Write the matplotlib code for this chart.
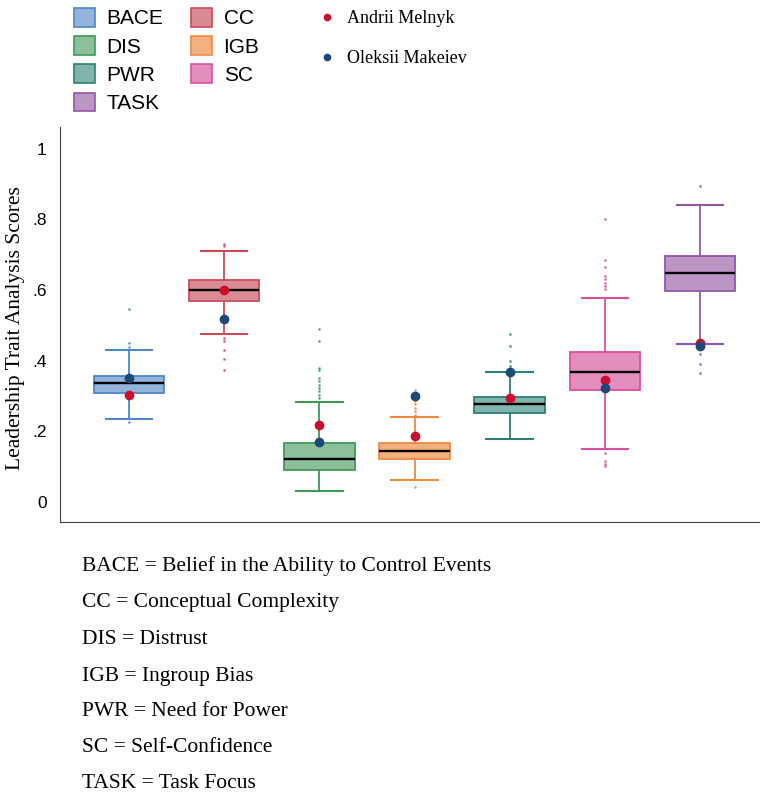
import matplotlib
matplotlib.use("Agg")
import matplotlib.pyplot as plt
from matplotlib.patches import Patch
from matplotlib.lines import Line2D

traits = ["BACE", "CC", "DIS", "IGB", "PWR", "SC", "TASK"]
full_names = ["Belief in the Ability to Control Events", "Conceptual Complexity",
              "Distrust", "Ingroup Bias", "Need for Power", "Self-Confidence", "Task Focus"]

# box summaries
q1 = [0.309, 0.568, 0.089, 0.121, 0.252, 0.317, 0.596]
med = [0.337, 0.599, 0.122, 0.145, 0.276, 0.367, 0.649]
q3 = [0.358, 0.628, 0.167, 0.167, 0.297, 0.425, 0.697]
whis_lo = [0.236, 0.477, 0.032, 0.062, 0.178, 0.149, 0.446]
whis_hi = [0.429, 0.710, 0.284, 0.241, 0.368, 0.577, 0.841]
outliers = [
    [0.545, 0.451, 0.438, 0.226],
    [0.730, 0.726, 0.465, 0.455, 0.430, 0.406, 0.373],
    [0.491, 0.455, 0.380, 0.375, 0.351, 0.342, 0.332, 0.323, 0.313, 0.304, 0.294],
    [0.316, 0.285, 0.276, 0.266, 0.257, 0.247, 0.041],
    [0.476, 0.441, 0.399, 0.385],
    [0.801, 0.685, 0.664, 0.640, 0.630, 0.620, 0.611, 0.602, 0.138, 0.115, 0.108, 0.101],
    [0.896, 0.418, 0.392, 0.364],
]

melnyk = [0.304, 0.601, 0.219, 0.188, 0.294, 0.345, 0.451]
makeiev = [0.350, 0.517, 0.169, 0.299, 0.367, 0.322, 0.441]

face_colors = ["#92b4da", "#d98a93", "#8dc09a", "#f5b07f", "#80b5ae", "#e48dbf", "#bb95c4"]
edge_colors = ["#4f86c6", "#cc4b5b", "#3f9a58", "#ef8a3f", "#2f7f74", "#db4fa0", "#9256a8"]

fig = plt.figure(figsize=(7.6, 7.95), dpi=100)
ax = fig.add_axes([60 / 760, 273 / 795, 700 / 760, 395 / 795])

stats = []
for i, t in enumerate(traits):
    stats.append({"label": t, "q1": q1[i], "med": med[i], "q3": q3[i],
                  "whislo": whis_lo[i], "whishi": whis_hi[i], "fliers": outliers[i]})

pos = list(range(1, len(traits) + 1))
for i in range(len(traits)):
    ec = edge_colors[i]
    ax.bxp([stats[i]], positions=[pos[i]], widths=0.74, capwidths=0.49,
           patch_artist=True, showfliers=True,
           boxprops=dict(facecolor=face_colors[i], edgecolor=ec, linewidth=1.3),
           whiskerprops=dict(color=ec, linewidth=1.3),
           capprops=dict(color=ec, linewidth=1.5),
           medianprops=dict(color="black", linewidth=1.7),
           flierprops=dict(marker="o", markersize=1.0, markerfacecolor=ec,
                           markeredgecolor=ec, alpha=0.7, linestyle="none"))

ax.plot(pos, melnyk, "o", color="#c8102e", markersize=6, linestyle="none", zorder=5)
ax.plot(pos, makeiev, "o", color="#1c4a78", markersize=6, linestyle="none", zorder=6)

ax.set_xlim(0.275, 7.63)
ax.set_ylim(-0.057, 1.062)
ax.set_yticks([0, 0.2, 0.4, 0.6, 0.8, 1.0])
ax.set_yticklabels(["0", ".2", ".4", ".6", ".8", "1"], family="Liberation Sans", fontsize=12.5)
ax.tick_params(axis="y", length=0, pad=9.5)
ax.set_xticks([])
for s in ["top", "right"]:
    ax.spines[s].set_visible(False)
ax.spines["left"].set_color("#444444")
ax.spines["bottom"].set_color("#444444")
ax.set_ylabel("Leadership Trait Analysis Scores", family="Liberation Serif", fontsize=15.5,
              va="center")
ax.yaxis.set_label_coords(-0.064, 0.49)

# legend for the traits
order = [0, 2, 4, 6, 1, 3, 5]
handles = [Patch(facecolor=face_colors[i], edgecolor=edge_colors[i], linewidth=1.2) for i in order]
labels = [traits[i] for i in order]
fig.legend(handles, labels, ncol=2, loc="upper left",
           bbox_to_anchor=(74 / 760, 1 - 8 / 795), frameon=False,
           prop={"family": "Liberation Sans", "size": 15},
           handlelength=1.0, handleheight=1.0, handletextpad=0.55,
           labelspacing=0.37, columnspacing=1.35, borderpad=0, borderaxespad=0)

# legend for the two leaders
h2 = [Line2D([], [], marker="o", color="#c8102e", linestyle="none", markersize=4.5),
      Line2D([], [], marker="o", color="#1c4a78", linestyle="none", markersize=4.5)]
fig.legend(h2, ["Andrii Melnyk", "Oleksii Makeiev"], loc="upper left",
           bbox_to_anchor=(318 / 760, 1 - 10 / 795), frameon=False,
           prop={"family": "Liberation Serif", "size": 13},
           handlelength=1.0, handletextpad=0.6, labelspacing=1.3,
           borderpad=0, borderaxespad=0)

line_y = [566, 603, 639, 676, 712, 748, 784]
for i, t in enumerate(traits):
    fig.text(82 / 760, 1 - line_y[i] / 795, f"{t} = {full_names[i]}",
             family="Liberation Serif", fontsize=15.5, va="center", ha="left")

fig.savefig("out.png", dpi=100)
